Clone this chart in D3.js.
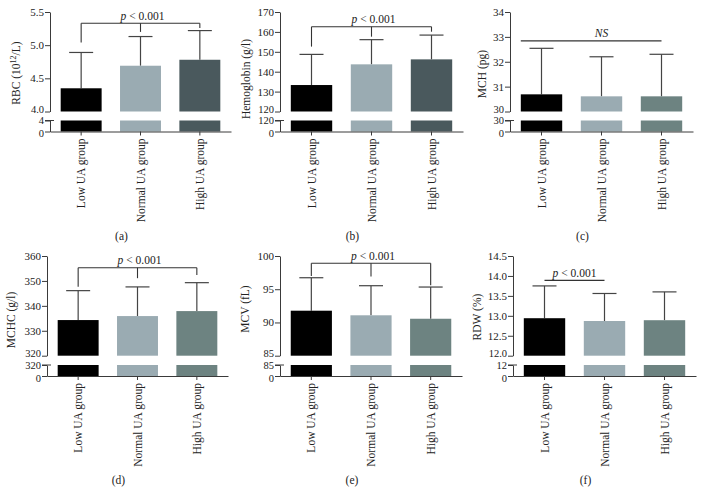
<!DOCTYPE html>
<html><head><meta charset="utf-8">
<script src="https://cdn.jsdelivr.net/npm/d3@7"></script>
<style>body{margin:0;background:#fff}svg{display:block}text{font-family:"Liberation Serif","DejaVu Serif",serif;fill:#222}</style>
</head><body><svg id="c" width="703" height="502"></svg>
<script>
const categories = ["Low UA group", "Normal UA group", "High UA group"];
const panelLetters = ["(a)", "(b)", "(c)", "(d)", "(e)", "(f)"];
const yTitles = ["RBC", "Hemoglobin (g/l)", "MCH (pg)", "MCHC (g/l)", "MCV (fL)", "RDW (%)"];
// upper-segment domains [break, max]
const upperDomains = [[4.0, 5.5], [120, 170], [30, 34], [320, 360], [85, 100], [12, 14.5]];
const upperTicks = [[4.0, 4.5, 5.0, 5.5], [120, 130, 140, 150, 160, 170], [30, 31, 32, 33, 34], [320, 330, 340, 350, 360], [85, 90, 95, 100], [12.0, 12.5, 13.0, 13.5, 14.0, 14.5]];
const upperTickFmt = [".1f", "d", "d", "d", "d", ".1f"];
const lowerTicks = [[0, 4], [0, 120], [0, 30], [0, 320], [0, 85], [0, 12]];
// means
const rbcMean = [4.35, 4.69, 4.78];
const hbMean = [133.3, 143.7, 146.2];
const mchMean = [30.69, 30.61, 30.61];
const mchcMean = [334.3, 335.9, 337.9];
const mcvMean = [91.77, 91.08, 90.56];
const rdwMean = [12.94, 12.87, 12.89];
// top of error bars (mean + SD)
const rbcErr = [4.89, 5.13, 5.22];
const hbErr = [148.7, 156.1, 158.4];
const mchErr = [32.54, 32.20, 32.30];
const mchcErr = [346.1, 347.6, 349.3];
const mcvErr = [96.73, 95.53, 95.33];
const rdwErr = [13.75, 13.56, 13.60];
// significance annotations: bracket level, leg ends (null = no leg)
const sigText = ["p < 0.001", "p < 0.001", "NS", "p < 0.001", "p < 0.001", "p < 0.001"];
const sigLevel = [5.33, 162.6, 32.84, 355.3, 98.9, 13.89];
const sigLegEnds = [[5.04, 5.20, 5.26], [152.6, 157.6, 160.1], null, [347.7, 351.1, 352.4], [97.0, 96.9, 95.6], null];

const means = [rbcMean, hbMean, mchMean, mchcMean, mcvMean, rdwMean];
const errs = [rbcErr, hbErr, mchErr, mchcErr, mcvErr, rdwErr];

const colorsDark = ["#000000", "#9aabb2", "#4a595d"];
const colorsLight = ["#000000", "#9aabb2", "#6d8381"];

const layout = [
  {ax: 50, xe: 231, top: 12, brk: 111.5, lt: 120.5, zero: 131.5, ylx: 20, yly: 73},
  {ax: 280, xe: 463, top: 12, brk: 111.5, lt: 120.5, zero: 131.5, ylx: 250, yly: 79},
  {ax: 510, xe: 693, top: 12, brk: 111.5, lt: 120.5, zero: 131.5, ylx: 486, yly: 74},
  {ax: 47, xe: 228, top: 256, brk: 355.7, lt: 365, zero: 376, ylx: 15, yly: 320},
  {ax: 280, xe: 462, top: 256, brk: 355.7, lt: 365, zero: 376, ylx: 249, yly: 309},
  {ax: 513, xe: 696, top: 256, brk: 355.7, lt: 365, zero: 376, ylx: 481, yly: 317}
];

const svg = d3.select("#c");
const AX = "#3a3a3a";

layout.forEach((L, i) => {
  const g = svg.append("g");
  const x = d3.scaleBand().domain(categories).range([L.ax, L.xe]).paddingInner(0.31).paddingOuter(0.18);
  const yU = d3.scaleLinear().domain(upperDomains[i]).range([L.brk, L.top]);
  const yL = d3.scaleLinear().domain([0, upperDomains[i][0]]).range([L.zero, L.lt]);
  const cols = i < 2 ? colorsDark : colorsLight;
  const bw = x.bandwidth();
  const data = categories.map((c, k) => ({c, m: means[i][k], e: errs[i][k], col: cols[k]}));

  // error bars (drawn first, bars on top)
  data.forEach(d => {
    const cx = x(d.c) + bw / 2;
    g.append("line").attr("x1", cx).attr("x2", cx).attr("y1", yU(d.m)).attr("y2", yU(d.e)).attr("stroke", "#444").attr("stroke-width", 1.2);
    g.append("line").attr("x1", cx - 12).attr("x2", cx + 12).attr("y1", yU(d.e)).attr("y2", yU(d.e)).attr("stroke", "#444").attr("stroke-width", 1.2);
  });
  // bars upper
  g.selectAll(".bu").data(data).join("rect")
    .attr("x", d => x(d.c)).attr("width", bw)
    .attr("y", d => yU(d.m)).attr("height", d => yU(upperDomains[i][0]) - yU(d.m))
    .attr("fill", d => d.col);
  // bars lower
  g.selectAll(".bl").data(data).join("rect")
    .attr("x", d => x(d.c)).attr("width", bw)
    .attr("y", yL(upperDomains[i][0])).attr("height", yL(0) - yL(upperDomains[i][0]))
    .attr("fill", d => d.col);

  // y axis upper
  const aU = g.append("g").attr("transform", `translate(${L.ax},0)`)
    .call(d3.axisLeft(yU).tickValues(upperTicks[i]).tickFormat(d3.format(upperTickFmt[i])).tickSize(5).tickSizeOuter(0));
  const aL = g.append("g").attr("transform", `translate(${L.ax},0)`)
    .call(d3.axisLeft(yL).tickValues(lowerTicks[i]).tickFormat(d3.format("d")).tickSize(5).tickSizeOuter(0));
  [aU, aL].forEach(a => {
    a.select(".domain").attr("stroke", AX);
    a.selectAll(".tick line").attr("stroke", AX);
    a.selectAll(".tick text").attr("font-size", 11).attr("x", -6).style("font-family", "Liberation Serif");
  });
  // labels around the break: slightly smaller and nudged apart
  aU.selectAll(".tick text").filter(d => d === upperDomains[i][0]).attr("font-size", 10.5).attr("dy", "0.1em");
  aL.selectAll(".tick text").filter(d => d !== 0).attr("font-size", 10.5).attr("dy", "0.33em");
  aL.selectAll(".tick text").filter(d => d === 0).attr("font-size", 10.5).attr("dy", "0.5em");
  // break mark on lower segment top
  g.append("line").attr("x1", L.ax - 5).attr("x2", L.ax + 4).attr("y1", L.lt).attr("y2", L.lt).attr("stroke", AX);

  // x axis
  const ax = g.append("g").attr("transform", `translate(0,${L.zero})`)
    .call(d3.axisBottom(x).tickSize(4).tickSizeOuter(0).tickFormat(""));
  ax.select(".domain").attr("stroke", AX);
  ax.selectAll(".tick line").attr("stroke", AX);
  categories.forEach(c => {
    g.append("text").attr("transform", `translate(${x(c) + bw / 2 + 4},${L.zero + 7}) rotate(-90)`)
      .attr("text-anchor", "end").attr("font-size", 11.5).text(c);
  });

  // y title
  const yt = g.append("text").attr("transform", `translate(${L.ylx},${L.yly}) rotate(-90)`)
    .attr("text-anchor", "middle").attr("font-size", 11.5);
  if (i === 0) {
    yt.append("tspan").text("RBC (10");
    yt.append("tspan").attr("font-size", 8).attr("dy", -4).text("12");
    yt.append("tspan").attr("dy", 4).text("/L)");
  } else yt.text(yTitles[i]);

  // panel letter
  g.append("text").attr("x", (L.ax - 40 + L.xe) / 2 + 1).attr("y", L.zero + 108).attr("text-anchor", "middle").attr("font-size", 11.5).text(panelLetters[i]);

  // significance
  const cxs = categories.map(c => x(c) + bw / 2);
  const ly = yU(sigLevel[i]);
  let x1, x2, tx;
  if (i === 2) { x1 = x(categories[0]); x2 = cxs[2]; tx = cxs[1]; }
  else if (i === 5) { x1 = cxs[0]; x2 = cxs[1]; tx = (cxs[0] + cxs[1]) / 2; }
  else { x1 = cxs[0]; x2 = cxs[2]; tx = cxs[1] + 2; }
  g.append("line").attr("x1", x1).attr("x2", x2).attr("y1", ly).attr("y2", ly).attr("stroke", "#333").attr("stroke-width", 1.1);
  if (sigLegEnds[i]) {
    sigLegEnds[i].forEach((v, k) => {
      g.append("line").attr("x1", cxs[k]).attr("x2", cxs[k]).attr("y1", ly).attr("y2", yU(v)).attr("stroke", "#333").attr("stroke-width", 1.1);
    });
  }
  const st = g.append("text").attr("x", tx).attr("y", ly - 3.5).attr("text-anchor", "middle").attr("font-size", 11.5);
  if (sigText[i] === "NS") st.append("tspan").attr("font-style", "italic").text("NS");
  else {
    st.append("tspan").attr("font-style", "italic").text("p");
    st.append("tspan").text(" < 0.001");
  }
});
</script></body></html>
